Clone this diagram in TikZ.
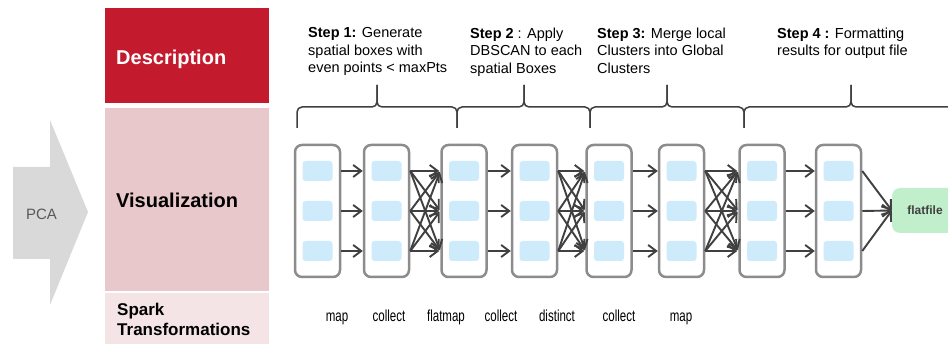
\documentclass[tikz,border=0pt]{standalone}
\usepackage{fontspec}
\setmainfont{Liberation Sans}
\newfontfamily\narrowfont[FakeStretch=0.72]{Liberation Sans}
\usetikzlibrary{arrows.meta}

\definecolor{descred}{HTML}{C41A2E}
\definecolor{vispink}{HTML}{E8C8CA}
\definecolor{sparkpink}{HTML}{F4E4E5}
\definecolor{pcagray}{HTML}{D9D9D9}
\definecolor{pcatext}{HTML}{595959}
\definecolor{slotblue}{HTML}{CDEBFB}
\definecolor{filegreen}{HTML}{C1EFCB}
\definecolor{boxgray}{HTML}{8C8C8C}
\definecolor{inkgray}{HTML}{404040}

\begin{document}
\begin{tikzpicture}[x=1pt,y=-1pt,
  band/.style={anchor=north west,inner sep=0,outer sep=0,minimum width=164pt},
  rowtitle/.style={anchor=base west,inner sep=0,font=\bfseries\fontsize{20}{24}\selectfont},
  steptext/.style={anchor=north west,inner sep=0,align=left,font=\fontsize{14.5}{17.5}\selectfont,text=black},
  oplabel/.style={anchor=base,inner sep=0,font=\narrowfont\fontsize{16}{18}\selectfont},
  stage/.style={draw=boxgray,line width=2.5pt,fill=white,rounded corners=7pt,
                minimum width=45pt,minimum height=132pt,inner sep=0},
  slot/.style={fill=slotblue,rounded corners=3pt,minimum width=30pt,minimum height=20pt,inner sep=0},
  flow/.style={draw=inkgray,line width=1.9pt,-{Straight Barb[length=8pt,width=12pt]}},
  bracepath/.style={draw=inkgray,line width=1.5pt,rounded corners=5pt},
  filebox/.style={fill=filegreen,rounded corners=8pt,minimum width=66pt,minimum height=45pt,
                  inner sep=0,text=inkgray,font=\bfseries\fontsize{12}{14}\selectfont}]

\clip (0,0) rectangle (948,344);
\fill[white] (0,0) rectangle (948,344);

% PCA block arrow
\fill[pcagray] (13,167) -- (50,167) -- (50,120) -- (88,212) -- (50,305) -- (50,259) -- (13,259) -- cycle;
\node[anchor=base,inner sep=0,text=pcatext,font=\fontsize{15}{18}\selectfont] (pca) at (41.5,220) {PCA};

% row headers
\node[band,fill=descred,minimum height=95pt] (descband) at (105,8) {};
\node[band,fill=vispink,minimum height=183pt] (visband) at (105,108) {};
\node[band,fill=sparkpink,minimum height=60pt] (sparkband) at (105,293) {};
\node[rowtitle,text=white] (desctitle) at (116,65) {Description};
\node[rowtitle] (vistitle) at (116,208) {Visualization};
\node[anchor=north west,inner sep=0,align=left,font=\bfseries\fontsize{17}{20}\selectfont]
  (sparktitle) at (117,302.5) {Spark\\Transformations};

% step descriptions
\node[steptext] (s1) at (308,27.3) {\textbf{Step 1:} Generate\\spatial boxes with\\even points < maxPts};
\node[steptext] (s2) at (470,27.3) {\textbf{Step 2} : Apply\\DBSCAN to each\\spatial Boxes};
\node[steptext] (s3) at (597,27.3) {\textbf{Step 3:} Merge local\\Clusters into Global\\Clusters};
\node[steptext] (s4) at (777,27.3) {\textbf{Step 4 :} Formatting\\results for output file};

% curly braces under the steps
\draw[bracepath] (297,128) -- (297,107) -- (377,107) -- (377,85);
\draw[bracepath] (457,128) -- (457,107) -- (377,107) -- (377,85);
\draw[bracepath] (457,128) -- (457,107) -- (524,107) -- (524,85);
\draw[bracepath] (590,128) -- (590,107) -- (524,107) -- (524,85);
\draw[bracepath] (590,128) -- (590,107) -- (667,107) -- (667,85);
\draw[bracepath] (744,128) -- (744,107) -- (667,107) -- (667,85);
\draw[bracepath] (744,128) -- (744,107) -- (851,107) -- (851,85);
\draw[bracepath] (960,107) -- (851,107) -- (851,85);

% RDD stages with their partitions
\foreach \i/\x in {1/317.5,2/386.5,3/464,4/534.5,5/609,6/681.5,7/762,8/838.5} {
  \node[stage] (b\i) at (\x,211) {};
  \foreach \j/\y in {1/171,2/211,3/251}
    \node[slot] (r\i\j) at (\x,\y) {};
}

% output file
\node[filebox] (flat) at (925,210.5) {flatfile};

% narrow transformations: partition to partition
\foreach \a/\b in {1/2,3/4,5/6,7/8}
  \foreach \j in {1,2,3}
    \draw[flow] (r\a\j -| b\a.east) -- (r\b\j -| b\b.west);

% wide transformations: every partition to every partition
\foreach \a/\b in {2/3,4/5,6/7}
  \foreach \j in {1,2,3}
    \foreach \k in {1,2,3}
      \draw[flow,shorten >=1pt] (r\a\j -| b\a.east) -- (r\b\k -| b\b.west);

% write out
\foreach \j in {1,2,3}
  \draw[flow] (r8\j -| b8.east) -- (flat.west);

% Spark operation names
\node[oplabel] (op1) at (337,322) {map};
\node[oplabel] (op2) at (389,322) {collect};
\node[oplabel] (op3) at (446,322) {flatmap};
\node[oplabel] (op4) at (501,322) {collect};
\node[oplabel] (op5) at (557,322) {distinct};
\node[oplabel] (op6) at (619,322) {collect};
\node[oplabel] (op7) at (681,322) {map};

\end{tikzpicture}
\end{document}
